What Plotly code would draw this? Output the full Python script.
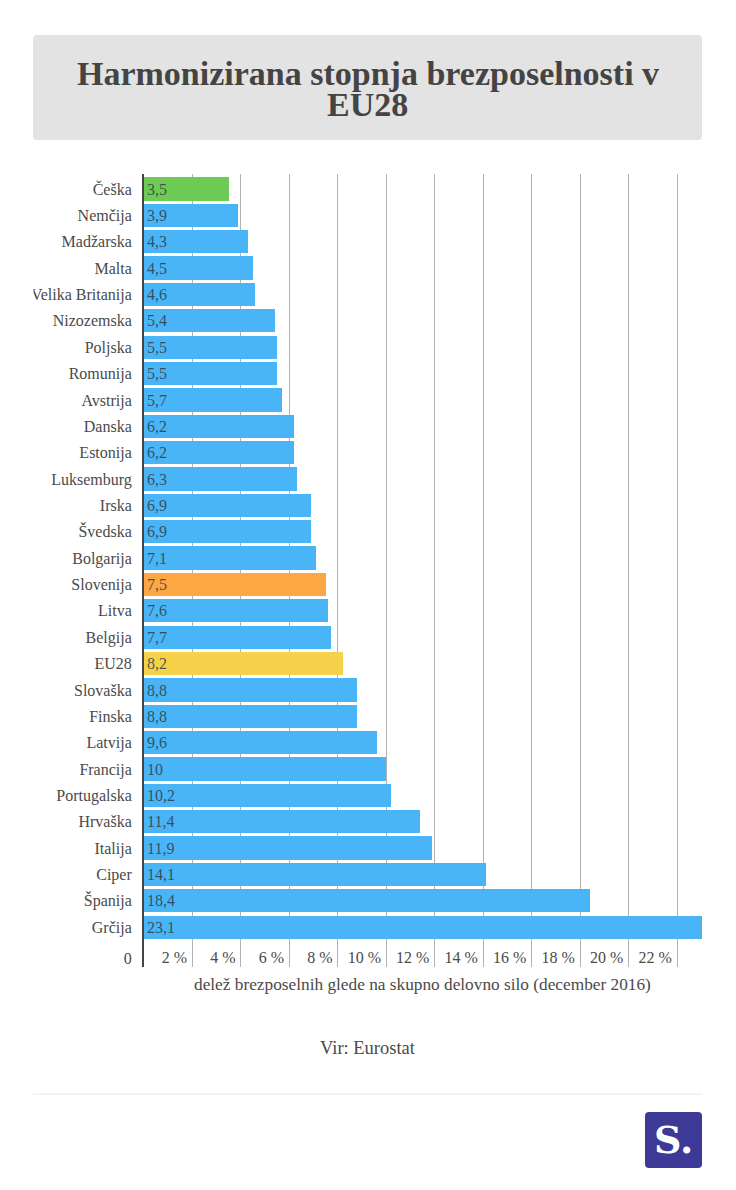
import plotly.graph_objects as go

countries = ["Češka","Nemčija","Madžarska","Malta","Velika Britanija","Nizozemska","Poljska","Romunija","Avstrija","Danska","Estonija","Luksemburg","Irska","Švedska","Bolgarija","Slovenija","Litva","Belgija","EU28","Slovaška","Finska","Latvija","Francija","Portugalska","Hrvaška","Italija","Ciper","Španija","Grčija"]
values = [3.5,3.9,4.3,4.5,4.6,5.4,5.5,5.5,5.7,6.2,6.2,6.3,6.9,6.9,7.1,7.5,7.6,7.7,8.2,8.8,8.8,9.6,10,10.2,11.4,11.9,14.1,18.4,23.1]
highlight = {"Češka":"#6dcb55","Slovenija":"#fda744","EU28":"#f6d24b"}
base_color = "#49b5f7"
x_ticks = list(range(2,24,2))
# two no-break spaces = one digit: keeps every centred label the same width, so they end flush right
x_labels = [("\u00a0\u00a0" if t < 10 else "") + f"{t}\u00a0%" for t in x_ticks]

W,H = 736,1190
TEXT = "#4a4a4a"
SERIF = "Liberation Serif"
def px(v): return v/W
def py(v): return 1-v/H
def rrect(x0,y0,x1,y1,r):
    a,b,c,d = px(x0),px(x1),py(y0),py(y1)
    rx,ry = r/W,r/H
    return (f"M{a+rx},{c} L{b-rx},{c} Q{b},{c} {b},{c-ry} L{b},{d+ry} Q{b},{d} {b-rx},{d} "
            f"L{a+rx},{d} Q{a},{d} {a},{d+ry} L{a},{c-ry} Q{a},{c} {a+rx},{c} Z")

idx = list(range(len(countries)))
fig = go.Figure(go.Bar(
    y=idx, x=values, orientation="h", width=0.885,
    marker=dict(color=[highlight.get(c,base_color) for c in countries], line_width=0),
    text=[str(v).replace(".",",") for v in values],
    textposition="inside", insidetextanchor="start", constraintext="none",
    insidetextfont=dict(family=SERIF,size=16,color="rgba(50,60,70,0.85)"),
    hoverinfo="skip"))

fig.update_layout(
    width=W,height=H,autosize=False,showlegend=False,
    margin=dict(l=0,r=0,t=0,b=0),
    paper_bgcolor="white",plot_bgcolor="white",
    font=dict(family=SERIF,color=TEXT,size=16),
    bargap=0,
    xaxis=dict(domain=[144/W,702/W],range=[0,23.03],tickvals=x_ticks,ticktext=x_labels,
        showgrid=True,gridcolor="#b2b2b2",gridwidth=1,zeroline=False,showline=False,
        ticks="",ticklabelshift=-22,ticklabelstandoff=-21,
        tickfont=dict(family=SERIF,size=16,color=TEXT)),
    yaxis=dict(domain=[1-967/H,1-174/H],range=[29.51,-0.569],
        tickvals=idx+[29.17],ticktext=countries+["0"],
        showgrid=False,zeroline=False,showline=True,linecolor="#444444",linewidth=2,
        ticks="",ticklabelstandoff=7,
        tickfont=dict(family=SERIF,size=16,color=TEXT)),
    shapes=[
        dict(type="path",xref="paper",yref="paper",path=rrect(33,35,702,140,4),fillcolor="#e3e3e3",line_width=0,layer="below"),
        dict(type="rect",xref="paper",yref="paper",x0=0,x1=33.5/W,y0=py(304),y1=py(284),fillcolor="white",line_width=0,layer="above"),
        dict(type="line",xref="paper",yref="paper",x0=33/W,x1=702/W,y0=py(1094),y1=py(1094),line=dict(color="#e8e8e8",width=1)),
        dict(type="path",xref="paper",yref="paper",path=rrect(645,1112,702,1168,4),fillcolor="#3c3a96",line_width=0,layer="below"),
    ],
    annotations=[
        dict(xref="paper",yref="paper",x=367.5/W,y=py(73),text="<b>Harmonizirana stopnja brezposelnosti v</b>",
             showarrow=False,font=dict(family=SERIF,size=34,color="#444444"),xanchor="center",yanchor="middle"),
        dict(xref="paper",yref="paper",x=367.5/W,y=py(104),text="<b>EU28</b>",
             showarrow=False,font=dict(family=SERIF,size=34,color="#444444"),xanchor="center",yanchor="middle"),
        dict(xref="paper",yref="paper",x=422/W,y=py(985),text="delež brezposelnih glede na skupno delovno silo (december 2016)",
             showarrow=False,font=dict(family=SERIF,size=17.3,color=TEXT),xanchor="center",yanchor="middle"),
        dict(xref="paper",yref="paper",x=368/W,y=py(1048),text="Vir: Eurostat",
             showarrow=False,font=dict(family=SERIF,size=18.5,color=TEXT),xanchor="center",yanchor="middle"),
        dict(xref="paper",yref="paper",x=673/W,y=py(1139),text="<b>S.</b>",
             showarrow=False,font=dict(family="DejaVu Serif",size=38,color="white"),xanchor="center",yanchor="middle"),
    ],
)
fig.write_html("out.html",config=dict(displayModeBar=False),post_script="document.body.style.margin='0';")
